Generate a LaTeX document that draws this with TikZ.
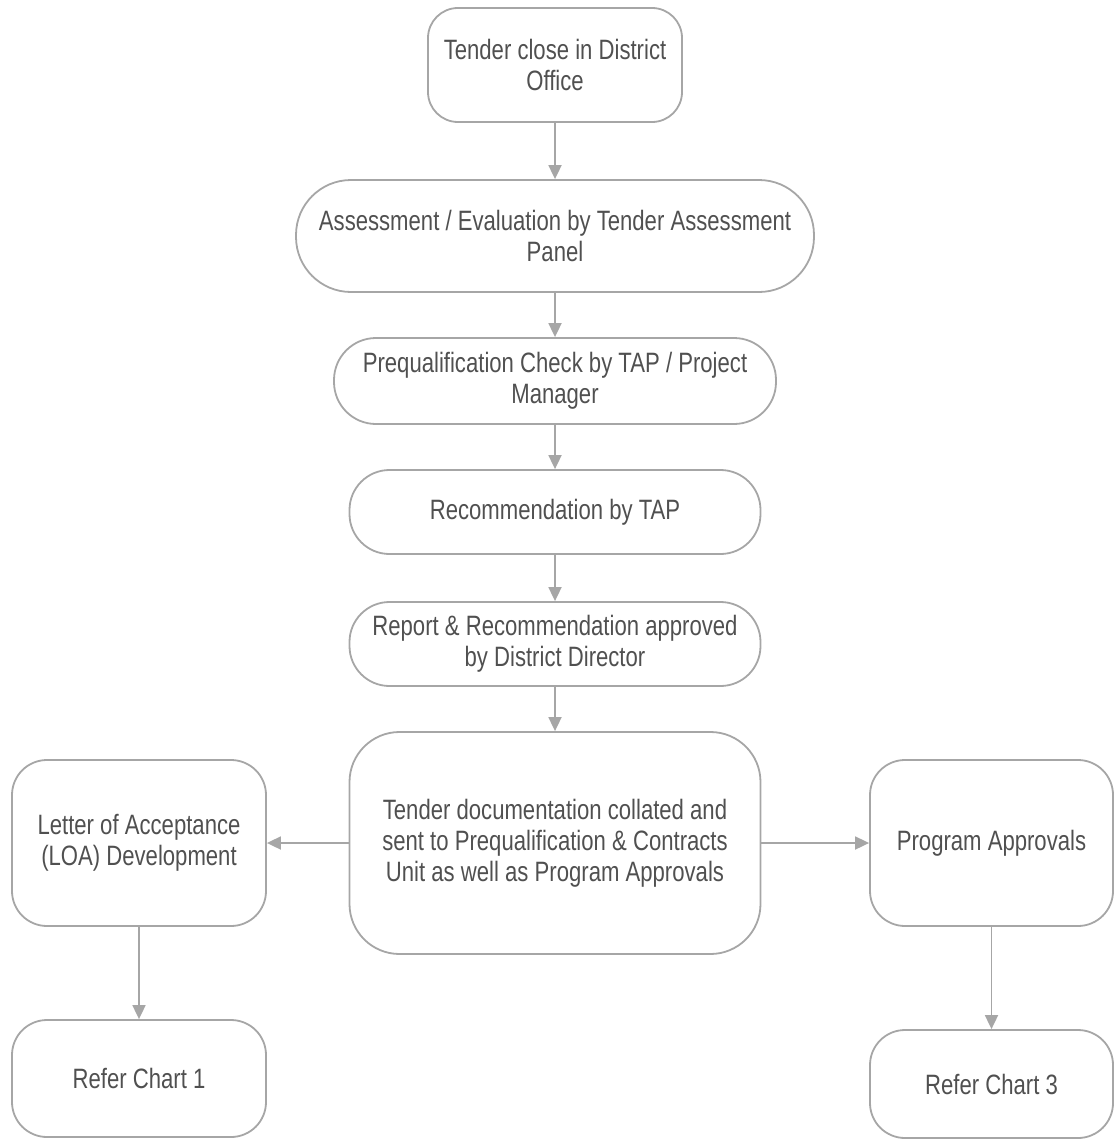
\documentclass[tikz,border=0pt]{standalone}
\usepackage{fontspec}
\setmainfont{Liberation Sans}[FakeStretch=0.79]
\usetikzlibrary{arrows.meta}
\definecolor{linegray}{HTML}{A6A6A6}
\definecolor{textgray}{HTML}{505050}
\begin{document}
\begin{tikzpicture}[x=1pt,y=-1pt,
 box/.style={draw=linegray,line width=1.8pt,text=textgray,align=center,inner sep=0pt,font=\fontsize{28}{31}\selectfont},
 arr/.style={draw=linegray,line width=1.8pt,-{Triangle[width=13pt,length=14pt]}}]
\useasboundingbox (0,0) rectangle (1115,1140);
\node[box,minimum width=254pt,minimum height=114pt,rounded corners=30pt] (b1) at (555,65) {Tender close in District\\Office};
\node[box,minimum width=518pt,minimum height=112pt,rounded corners=55pt] (b2) at (555,236) {Assessment / Evaluation by Tender Assessment\\Panel};
\node[box,minimum width=442pt,minimum height=86pt,rounded corners=42pt] (b3) at (555,381) {Prequalification Check by TAP / Project\\Manager};
\node[box,minimum width=411pt,minimum height=84pt,rounded corners=40pt] (b4) at (555,512) {Recommendation by TAP};
\node[box,minimum width=411pt,minimum height=84pt,rounded corners=40pt] (b5) at (555,644) {Report \& Recommendation approved\\by District Director};
\node[box,minimum width=411pt,minimum height=222pt,rounded corners=50pt] (b6) at (555,843) {Tender documentation collated and\\sent to Prequalification \& Contracts\\Unit as well as Program Approvals};
\node[box,minimum width=254pt,minimum height=166pt,rounded corners=35pt] (l1) at (139,843) {Letter of Acceptance\\(LOA) Development};
\node[box,minimum width=254pt,minimum height=117pt,rounded corners=35pt] (l2) at (139,1078.5) {Refer Chart 1};
\node[box,minimum width=243pt,minimum height=166pt,rounded corners=35pt] (r1) at (991.5,843) {Program Approvals};
\node[box,minimum width=243pt,minimum height=108pt,rounded corners=35pt] (r2) at (991.5,1084) {Refer Chart 3};
\draw[arr] (b1.south) -- (b2.north);
\draw[arr] (b2.south) -- (b3.north);
\draw[arr] (b3.south) -- (b4.north);
\draw[arr] (b4.south) -- (b5.north);
\draw[arr] (b5.south) -- (b6.north);
\draw[arr] (b6.west) -- (l1.east);
\draw[arr] (b6.east) -- (r1.west);
\draw[arr] (l1.south) -- (l2.north);
\draw[arr] (r1.south) -- (r2.north);
\end{tikzpicture}
\end{document}
